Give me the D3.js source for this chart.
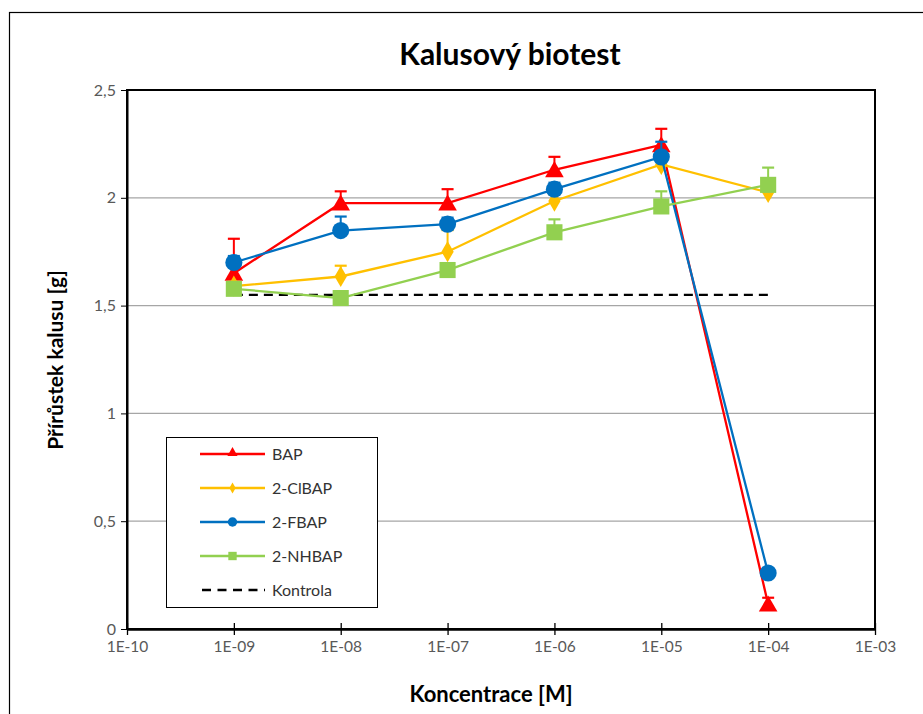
<!DOCTYPE html>
<html><head><meta charset="utf-8">
<script src="https://cdn.jsdelivr.net/npm/d3@7"></script>
<style>body{margin:0;background:#fff}svg{display:block}text{font-family:Lato,"Open Sans",sans-serif}</style>
</head><body><svg id="c" width="923" height="714"></svg>
<script>
const concentrations = [1e-9, 1e-8, 1e-7, 1e-6, 1e-5, 1e-4];
const xTicks = [1e-10, 1e-9, 1e-8, 1e-7, 1e-6, 1e-5, 1e-4, 1e-3];
const xTickLabels = ["1E-10","1E-09","1E-08","1E-07","1E-06","1E-05","1E-04","1E-03"];
const yTicks = [0, 0.5, 1, 1.5, 2, 2.5];
const yTickLabels = ["0","0,5","1","1,5","2","2,5"];
const seriesNames = ["BAP","2-ClBAP","2-FBAP","2-NHBAP"];
const bapValues   = [1.65, 1.975, 1.975, 2.13, 2.245, 0.115];
const bapErr      = [0.16, 0.055, 0.065, 0.06, 0.075, 0.03];
const clbapValues = [1.59, 1.635, 1.75, 1.985, 2.155, 2.025];
const clbapErr    = [0.02, 0.05, 0.1, 0.03, 0.03, 0.02];
const fbapValues  = [1.70, 1.848, 1.878, 2.04, 2.19, 0.26];
const fbapErr     = [0.03, 0.065, 0.03, 0.03, 0.07, 0.02];
const nhbapValues = [1.578, 1.535, 1.665, 1.84, 1.96, 2.06];
const nhbapErr    = [0.02, 0.02, 0.03, 0.06, 0.07, 0.08];
const controlValue = 1.55;
const controlRange = [1e-9, 1e-4];

const colors = ["#ff0000","#ffc000","#0070c0","#92d050"];
const symbols = [d3.symbolTriangle, d3.symbolDiamond, d3.symbolCircle, d3.symbolSquare];
const symSizes = [150, 130, 230, 260];
const legSizes = [45, 35, 70, 70];
const allValues = [bapValues, clbapValues, fbapValues, nhbapValues];
const allErr = [bapErr, clbapErr, fbapErr, nhbapErr];

const svg = d3.select("#c");
svg.append("rect").attr("x",9.5).attr("y",12.5).attr("width",930).attr("height",720)
  .attr("fill","#fff").attr("stroke","#000").attr("stroke-width",1.2);

const L=127, R=875, T=90, B=629;
const x = d3.scaleLog().domain([1e-10,1e-3]).range([L,R]);
const y = d3.scaleLinear().domain([0,2.5]).range([B,T]);

svg.append("g").selectAll("line").data(yTicks.filter(v=>v>0 && v<2.5)).join("line")
  .attr("x1",L).attr("x2",R).attr("y1",d=>y(d)).attr("y2",d=>y(d))
  .attr("stroke","#a6a6a6").attr("stroke-width",1.3);

svg.append("rect").attr("x",L).attr("y",T).attr("width",R-L).attr("height",B-T)
  .attr("fill","none").attr("stroke","#000").attr("stroke-width",2);

const yAx = svg.append("g").attr("transform",`translate(${L},0)`)
  .call(d3.axisLeft(y).tickValues(yTicks).tickFormat((d,i)=>yTickLabels[i]).tickSize(6).tickSizeOuter(0));
yAx.select(".domain").attr("stroke","#000").attr("stroke-width",2);
yAx.selectAll(".tick line").attr("stroke","#000").attr("stroke-width",1);
yAx.selectAll(".tick text").attr("font-size",16).attr("fill","#595959").attr("x",-11);

const xAx = svg.append("g").attr("transform",`translate(0,${B})`)
  .call(d3.axisBottom(x).tickValues(xTicks).tickFormat((d,i)=>xTickLabels[i]).tickSize(6).tickSizeOuter(0));
xAx.select(".domain").attr("stroke","#000").attr("stroke-width",2.5);
xAx.selectAll(".tick line").attr("stroke","#000").attr("stroke-width",1.3).attr("y1",-6).attr("y2",6);
xAx.selectAll(".tick text").attr("font-size",15.5).attr("fill","#595959").attr("y",12);

svg.append("line").attr("x1",x(controlRange[0])).attr("x2",x(controlRange[1]))
  .attr("y1",y(controlValue)).attr("y2",y(controlValue))
  .attr("stroke","#000").attr("stroke-width",2.3).attr("stroke-dasharray","9,6");

const line = d3.line().x((d,i)=>x(concentrations[i])).y(d=>y(d));
allValues.forEach((vals,si)=>{
  const g = svg.append("g");
  vals.forEach((v,i)=>{
    const cx = x(concentrations[i]), top = y(v+allErr[si][i]);
    g.append("line").attr("x1",cx).attr("x2",cx).attr("y1",y(v)).attr("y2",top)
      .attr("stroke",colors[si]).attr("stroke-width",2);
    g.append("line").attr("x1",cx-6).attr("x2",cx+6).attr("y1",top).attr("y2",top)
      .attr("stroke",colors[si]).attr("stroke-width",2.2);
  });
  g.append("path").datum(vals).attr("d",line).attr("fill","none")
    .attr("stroke",colors[si]).attr("stroke-width",2.3);
  g.selectAll("path.m").data(vals).join("path").attr("class","m")
    .attr("transform",(d,i)=>`translate(${x(concentrations[i])},${y(d)+(si===0?2:0)})`)
    .attr("d",d3.symbol().type(symbols[si]).size(symSizes[si]))
    .attr("fill",colors[si]);
});

const lg = svg.append("g");
lg.append("rect").attr("x",166.5).attr("y",437.5).attr("width",211).attr("height",170)
  .attr("fill","#fff").attr("stroke","#000").attr("stroke-width",1);
const legNames = seriesNames.concat(["Kontrola"]);
legNames.forEach((n,i)=>{
  const ly = 454 + i*34;
  if(i<4){
    lg.append("line").attr("x1",200).attr("x2",265).attr("y1",ly).attr("y2",ly)
      .attr("stroke",colors[i]).attr("stroke-width",2.3);
    lg.append("path").attr("transform",`translate(232.5,${ly+(i===0?-1:0)})`)
      .attr("d",d3.symbol().type(symbols[i]).size(legSizes[i])).attr("fill",colors[i]);
  } else {
    lg.append("line").attr("x1",202).attr("x2",265).attr("y1",ly).attr("y2",ly)
      .attr("stroke","#000").attr("stroke-width",2.3).attr("stroke-dasharray","9,6.5");
  }
  lg.append("text").attr("x",272).attr("y",ly).attr("dy","0.35em")
    .attr("font-size",16).attr("fill","#333").text(n);
});

svg.append("text").attr("x",510).attr("y",54).attr("dy","0.35em").attr("text-anchor","middle")
  .attr("font-size",30).attr("font-weight","bold").attr("fill","#000").text("Kalusový biotest");
svg.append("text").attr("x",491).attr("y",694).attr("dy","0.35em").attr("text-anchor","middle")
  .attr("font-size",22).attr("font-weight","bold").attr("fill","#000").text("Koncentrace [M]");
svg.append("text").attr("transform","translate(56,360) rotate(-90)").attr("dy","0.35em")
  .attr("text-anchor","middle").attr("font-size",21).attr("font-weight","bold").attr("fill","#000")
  .text("Přírůstek kalusu [g]");
</script></body></html>
